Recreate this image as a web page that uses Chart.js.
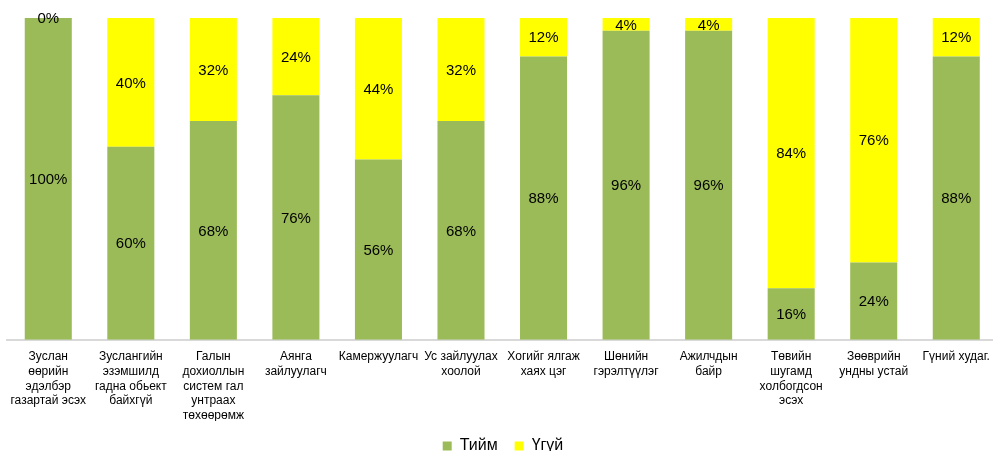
<!DOCTYPE html>
<html>
<head>
<meta charset="utf-8">
<script src="https://cdn.jsdelivr.net/npm/chart.js@4/dist/chart.umd.min.js"></script>
<style>
  html, body { margin: 0; padding: 0; background: #fff; overflow: hidden; }
  #wrap { position: absolute; left: 0; top: 0; width: 1000px; height: 464px; }
</style>
</head>
<body>
<div id="wrap"><canvas id="c"></canvas></div>
<script>
const categories = [
  ["Зуслан", "өөрийн", "эдэлбэр", "газартай эсэх"],
  ["Зуслангийн", "эзэмшилд", "гадна обьект", "байхгүй"],
  ["Галын", "дохиоллын", "систем гал", "унтраах", "төхөөрөмж"],
  ["Аянга", "зайлуулагч"],
  ["Камержуулагч"],
  ["Ус зайлуулах", "хоолой"],
  ["Хогийг ялгаж", "хаях цэг"],
  ["Шөнийн", "гэрэлтүүлэг"],
  ["Ажилчдын", "байр"],
  ["Төвийн", "шугамд", "холбогдсон", "эсэх"],
  ["Зөөврийн", "ундны устай"],
  ["Гүний худаг."]
];
const seriesNames = ["Тийм", "Үгүй"];
const yesValues = [100, 60, 68, 76, 56, 68, 88, 96, 96, 16, 24, 88];
const noValues  = [0, 40, 32, 24, 44, 32, 12, 4, 4, 84, 76, 12];

const FONT = "'Liberation Sans', Arial, sans-serif";

const labelPlugin = {
  id: 'barLabels',
  afterDatasetsDraw(chart) {
    const ctx = chart.ctx;
    ctx.save();
    ctx.font = "15px " + FONT;
    ctx.fillStyle = "#000";
    ctx.textAlign = "center";
    ctx.textBaseline = "middle";
    chart.data.datasets.forEach((ds, di) => {
      const meta = chart.getDatasetMeta(di);
      meta.data.forEach((bar, i) => {
        const p = bar.getProps(['x', 'y', 'base'], true);
        const cy = (p.y + p.base) / 2;
        ctx.fillText(ds.data[i] + "%", p.x, cy + 1);
      });
    });
    ctx.restore();
  }
};

new Chart(document.getElementById('c'), {
  type: 'bar',
  data: {
    labels: categories,
    datasets: [
      { label: seriesNames[0], data: yesValues, backgroundColor: '#9BBB59', borderWidth: 0 },
      { label: seriesNames[1], data: noValues, backgroundColor: '#FFFF00', borderWidth: 0 }
    ]
  },
  options: {
    responsive: true,
    maintainAspectRatio: false,
    animation: false,
    layout: { padding: { top: 18, left: 7, right: 1, bottom: 0 } },
    datasets: { bar: { categoryPercentage: 1, barPercentage: 0.57 } },
    scales: {
      x: {
        stacked: true,
        grid: { display: false, drawTicks: false },
        border: { display: true, color: '#d9d9d9', width: 2 },
        afterFit(scale) { scale.height -= 12; },
        ticks: {
          autoSkip: false, maxRotation: 0, minRotation: 0,
          padding: 10,
          color: '#000',
          font: { family: FONT, size: 12, lineHeight: 1.22 }
        }
      },
      y: {
        stacked: true, display: false, min: 0, max: 100
      }
    },
    plugins: {
      legend: {
        position: 'bottom',
        labels: {
          boxWidth: 9, boxHeight: 9, padding: 17,
          color: '#000',
          font: { family: FONT, size: 16 }
        }
      },
      tooltip: { enabled: false }
    }
  },
  plugins: [labelPlugin]
});
</script>
</body>
</html>
